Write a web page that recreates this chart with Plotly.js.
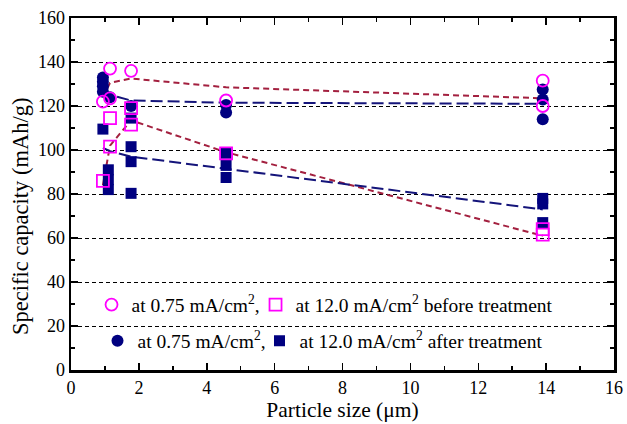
<!DOCTYPE html>
<html>
<head>
<meta charset="utf-8">
<script src="https://cdn.plot.ly/plotly-3.0.1.min.js"></script>
<style>html,body{margin:0;padding:0;background:#fff;}#chart{width:627px;height:424px;}</style>
</head>
<body>
<div id="chart"></div>
<script>
// Particle sizes (µm) for trend lines
const lineSizes = [0.94, 1.15, 1.77, 4.57, 13.9];
// Trend lines
const beforeLowRateLine = [124, 130.5, 132.5, 128.5, 123.5];
const beforeHighRateLine = [84, 102, 113.5, 99, 61];
const afterLowRateLine = [128, 125, 122.5, 121.5, 121];
const afterHighRateLine = [101, 99.5, 97, 91.5, 73];

// Before treatment, 0.75 mA/cm2 (open circles)
const beforeCircX = [0.94, 1.15, 1.15, 1.77, 4.57, 13.9, 13.9];
const beforeCircY = [122, 137, 123.5, 136, 122.5, 131.5, 120];
// Before treatment, 12.0 mA/cm2 (open squares)
const beforeSqX = [0.94, 1.15, 1.15, 1.77, 1.77, 4.57, 13.9, 13.9];
const beforeSqY = [86, 101.5, 114.5, 119, 111.5, 98.5, 64, 61.5];
// After treatment, 0.75 mA/cm2 (filled circles)
const afterCircX = [0.94, 0.94, 0.94, 0.94, 1.15, 1.77, 4.57, 4.57, 13.9, 13.9, 13.9];
const afterCircY = [133, 131, 129, 126.5, 124, 120, 120.5, 117, 127.5, 123, 114];
// After treatment, 12.0 mA/cm2 (filled squares)
const afterSqX = [0.94, 1.1, 1.1, 1.1, 1.77, 1.77, 1.77, 1.77, 4.57, 4.57, 4.57, 13.9, 13.9, 13.9];
const afterSqY = [109.5, 91, 86.5, 82, 114.5, 101.5, 94.7, 80.3, 98.5, 93, 87.5, 78, 75.5, 67];

const xTickVals = [0, 2, 4, 6, 8, 10, 12, 14, 16];
const yTickVals = [0, 20, 40, 60, 80, 100, 120, 140, 160];

const RED = '#a3203f';
const NAVY = '#14147a';
const MAG = '#ff00ff';
const FILLNAVY = '#000080';
const SERIF = "'Liberation Serif', 'Times New Roman', Times, serif";

const traces = [
  {x: lineSizes, y: beforeLowRateLine, mode: 'lines', line: {color: RED, width: 2, dash: '6px,4px'}, showlegend: false, hoverinfo: 'skip'},
  {x: lineSizes, y: beforeHighRateLine, mode: 'lines', line: {color: RED, width: 2, dash: '6px,4px'}, showlegend: false, hoverinfo: 'skip'},
  {x: lineSizes, y: afterLowRateLine, mode: 'lines', line: {color: NAVY, width: 2, dash: '12px,5px'}, showlegend: false, hoverinfo: 'skip'},
  {x: lineSizes, y: afterHighRateLine, mode: 'lines', line: {color: NAVY, width: 2, dash: '12px,5px'}, showlegend: false, hoverinfo: 'skip'},
  {x: afterCircX, y: afterCircY, mode: 'markers', name: 'at 0.75 mA/cm<sup>2</sup>,', legend: 'legend2', legendwidth: 117,
   marker: {symbol: 'circle', size: 12, color: FILLNAVY, line: {width: 0}}},
  {x: afterSqX, y: afterSqY, mode: 'markers', name: 'at 12.0 mA/cm<sup>2</sup> after treatment', legend: 'legend2',
   marker: {symbol: 'square', size: 11, color: FILLNAVY, line: {width: 0}}},
  {x: beforeCircX, y: beforeCircY, mode: 'markers', name: 'at 0.75 mA/cm<sup>2</sup>,', legend: 'legend', legendwidth: 119,
   marker: {symbol: 'circle-open', size: 12, color: MAG, line: {width: 1.8, color: MAG}}},
  {x: beforeSqX, y: beforeSqY, mode: 'markers', name: 'at 12.0 mA/cm<sup>2</sup> before treatment', legend: 'legend',
   marker: {symbol: 'square-open', size: 12, color: MAG, line: {width: 1.8, color: MAG}}}
];

const axisCommon = {
  showline: true, linecolor: '#000', linewidth: 2.5, mirror: 'ticks',
  ticks: 'inside', ticklen: 7, tickwidth: 1.5, tickcolor: '#000',
  zeroline: false,
  tickfont: {family: SERIF, size: 18, color: '#000'}
};

const layout = {
  width: 627, height: 424,
  margin: {l: 71, r: 13, t: 18, b: 54},
  paper_bgcolor: '#fff', plot_bgcolor: '#fff',
  font: {family: SERIF, color: '#000'},
  xaxis: Object.assign({}, axisCommon, {
    range: [0, 16], tickvals: xTickVals, showgrid: false,
    minor: {dtick: 1, ticks: 'inside', ticklen: 4, tickwidth: 1.5, tickcolor: '#000'},
    title: {text: 'Particle size (μm)', font: {size: 21.5, family: SERIF}, standoff: 3}
  }),
  yaxis: Object.assign({}, axisCommon, {
    range: [0, 160], tickvals: yTickVals, showgrid: true, gridcolor: '#000', gridwidth: 1, griddash: '4px,3px',
    minor: {dtick: 10, tick0: 0, ticks: 'inside', ticklen: 4, tickwidth: 1.5, tickcolor: '#000', showgrid: false}
  }),
  annotations: [{
    text: 'Specific capacity (mAh/g)', textangle: -90, showarrow: false,
    xref: 'paper', yref: 'paper', x: -0.094, y: 0.4375, xanchor: 'center', yanchor: 'middle',
    font: {size: 22.5, family: SERIF, color: '#000'}
  }],
  legend: {orientation: 'h', x: 0.0378, y: 0.185, xanchor: 'left', yanchor: 'middle',
    bgcolor: 'rgba(0,0,0,0)', font: {size: 19.5, family: SERIF},
    traceorder: 'normal', itemclick: false},
  legend2: {orientation: 'h', x: 0.0488, y: 0.082, xanchor: 'left', yanchor: 'middle',
    bgcolor: 'rgba(0,0,0,0)', font: {size: 19.5, family: SERIF},
    traceorder: 'normal', itemclick: false},
  showlegend: true
};

Plotly.newPlot('chart', traces, layout, {displayModeBar: false, staticPlot: true});
</script>
</body>
</html>
